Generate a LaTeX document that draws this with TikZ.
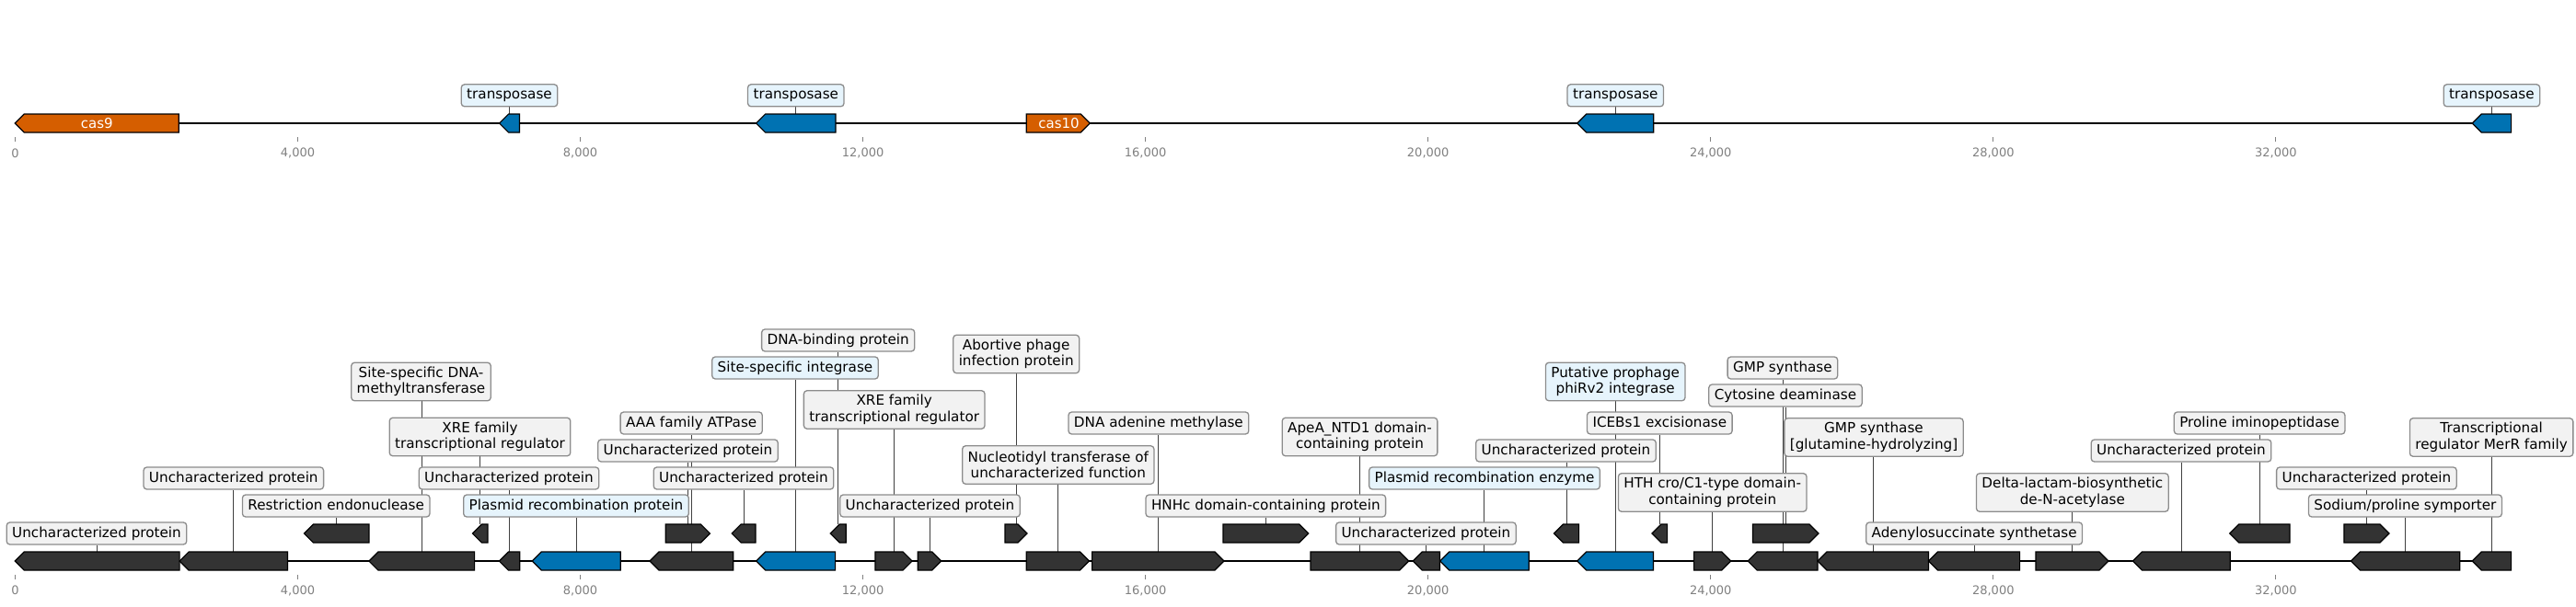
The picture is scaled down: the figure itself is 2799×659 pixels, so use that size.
\documentclass[tikz,border=0pt]{standalone}
\usepackage{fontspec}
\setmainfont{DejaVu Sans}
\usetikzlibrary{backgrounds}
\definecolor{featgray}{HTML}{333333}
\definecolor{featblue}{HTML}{0072B2}
\definecolor{featorange}{HTML}{D55E00}
\definecolor{labgray}{HTML}{F2F2F2}
\definecolor{labblue}{HTML}{E6F4FC}
\definecolor{labedge}{HTML}{8C8C8C}
\definecolor{ticklab}{HTML}{808080}
\newcommand\gfeatL[5]{%
  \pgfmathsetmacro\gtip{min(10,#3-#2)}%
  \draw[feat,fill=#5] (#2,#4) -- ({#2+\gtip},#4-10) -- (#3,#4-10) -- (#3,#4+10) -- ({#2+\gtip},#4+10) -- cycle;%
  \coordinate (#1) at ({(#2+#3)/2},#4-10);%
}
\newcommand\gfeatR[5]{%
  \pgfmathsetmacro\gtip{min(10,#3-#2)}%
  \draw[feat,fill=#5] (#2,#4-10) -- ({#3-\gtip},#4-10) -- (#3,#4) -- ({#3-\gtip},#4+10) -- (#2,#4+10) -- cycle;%
  \coordinate (#1) at ({(#2+#3)/2},#4-10);%
}
\tikzset{
  feat/.style={draw=black, line width=1.2pt, line join=miter},
  lab/.style={draw=labedge, fill=labgray, line width=1.3pt, rounded corners=3.5pt,
    font=\fontsize{15.2}{17.5}\selectfont, inner xsep=6pt, inner ysep=4.5pt,
    text height=11.5pt, text depth=3.5pt},
  labtwo/.style={draw=labedge, fill=labgray, line width=1.3pt, rounded corners=3.5pt,
    font=\fontsize{15.2}{17.5}\selectfont, align=center, inner xsep=6pt, inner ysep=0pt,
    minimum height=41.5pt},
  bluelab/.style={fill=labblue},
  conn/.style={draw=black!75, line width=1pt},
  track/.style={line width=2.5pt, draw=black},
  tickm/.style={draw=ticklab, line width=1pt},
  ticklabel/.style={text=ticklab, font=\fontsize{13}{13}\selectfont, inner sep=0pt},
  castext/.style={text=white, font=\fontsize{15}{15}\selectfont, inner sep=0pt},
}
\begin{document}
\begin{tikzpicture}[x=1pt,y=-1pt]
\useasboundingbox (0,0) rectangle (2799,659);
% tracks
\coordinate (ta) at (16.5,134); \coordinate (tb) at (2728.6,134);
\coordinate (ba) at (16.5,610); \coordinate (bb) at (2728.6,610);
\draw[track] (ta) -- (tb);
\draw[track] (ba) -- (bb);
% ticks
\foreach \k/\lab in {0/0,1/4{,}000,2/8{,}000,3/12{,}000,4/16{,}000,5/20{,}000,6/24{,}000,7/28{,}000,8/32{,}000}{
  \draw[tickm] ({16.5+\k*307.04},149) -- ({16.5+\k*307.04},154);
  \node[ticklabel] (ttop\k) at ({16.5+\k*307.04},166.5) {\lab};
  \draw[tickm] ({16.5+\k*307.04},625) -- ({16.5+\k*307.04},630);
  \node[ticklabel] (tbot\k) at ({16.5+\k*307.04},642) {\lab};
}
% top features
\gfeatL{c9}{16.3}{194.3}{134}{featorange}
\gfeatL{t1}{542.6}{564.5}{134}{featblue}
\gfeatL{t2}{821.6}{908}{134}{featblue}
\gfeatR{c10}{1115.2}{1184.3}{134}{featorange}
\gfeatL{t3}{1713.8}{1796.8}{134}{featblue}
\gfeatL{t4}{2686.2}{2728.6}{134}{featblue}
\node[castext] (c9t) at (105.3,134) {cas9};
\node[castext] (c10t) at (1150.5,134) {cas10};
\node[lab,bluelab] (lt1) at (553.5,103.8) {transposase};
\node[lab,bluelab] (lt2) at (864.8,103.8) {transposase};
\node[lab,bluelab] (lt3) at (1755.3,103.8) {transposase};
\node[lab,bluelab] (lt4) at (2707.4,103.8) {transposase};
% bottom main features
\gfeatL{f1}{16.3}{195.1}{610}{featgray}
\gfeatL{f2}{195.1}{312.5}{610}{featgray}
\gfeatL{f3}{400.9}{515.6}{610}{featgray}
\gfeatL{f4}{542.4}{564.7}{610}{featgray}
\gfeatL{f5}{578.2}{674.2}{610}{featblue}
\gfeatL{f6}{706}{796.8}{610}{featgray}
\gfeatL{f7}{821.8}{907.6}{610}{featblue}
\gfeatR{f8}{950.9}{991.1}{610}{featgray}
\gfeatR{f9}{997.3}{1022.8}{610}{featgray}
\gfeatR{f10}{1115.2}{1183.5}{610}{featgray}
\gfeatR{f11}{1186.6}{1330}{610}{featgray}
\gfeatR{f12}{1424}{1530.8}{610}{featgray}
\gfeatL{f13}{1535.3}{1564.5}{610}{featgray}
\gfeatL{f14}{1564.7}{1661.2}{610}{featblue}
\gfeatL{f15}{1713.8}{1796.4}{610}{featblue}
\gfeatR{f16}{1840.6}{1880.8}{610}{featgray}
\gfeatL{f17}{1899.1}{1975}{610}{featgray}
\gfeatL{f18}{1975}{2095.5}{610}{featgray}
\gfeatL{f19}{2095.5}{2194.6}{610}{featgray}
\gfeatR{f20}{2212}{2291}{610}{featgray}
\gfeatL{f21}{2317.4}{2423.2}{610}{featgray}
\gfeatL{f22}{2554.5}{2672.8}{610}{featgray}
\gfeatL{f23}{2686.2}{2728.6}{610}{featgray}
% bottom upper-row features
\gfeatL{u1}{330.4}{400.9}{580}{featgray}
\gfeatL{u2}{513.4}{529.9}{580}{featgray}
\gfeatR{u3}{723.2}{771.4}{580}{featgray}
\gfeatL{u4}{795.1}{821}{580}{featgray}
\gfeatL{u5}{902.2}{919.2}{580}{featgray}
\gfeatR{u6}{1092}{1116}{580}{featgray}
\gfeatR{u7}{1329}{1421.7}{580}{featgray}
\gfeatL{u8}{1688.4}{1715.6}{580}{featgray}
\gfeatL{u9}{1795}{1811.6}{580}{featgray}
\gfeatR{u10}{1904.5}{1975.9}{580}{featgray}
\gfeatL{u11}{2422.8}{2488}{580}{featgray}
\gfeatR{u12}{2546.9}{2596}{580}{featgray}
% bottom labels
\node[lab] (lf1) at (105,580) {Uncharacterized protein};
\node[lab] (lf2) at (253.8,520) {Uncharacterized protein};
\node[labtwo] (lf3) at (457.5,415) {Site-specific DNA-\\methyltransferase};
\node[lab] (lf4) at (553,520) {Uncharacterized protein};
\node[lab,bluelab] (lf5) at (626,550) {Plasmid recombination protein};
\node[lab] (lf6) at (751.2,460) {AAA family ATPase};
\node[lab,bluelab] (lf7) at (864,400) {Site-specific integrase};
\node[labtwo] (lf8) at (971.7,445.5) {XRE family\\transcriptional regulator};
\node[lab] (lf9) at (1010.5,550) {Uncharacterized protein};
\node[labtwo] (lf10) at (1149.8,505.5) {Nucleotidyl transferase of\\uncharacterized function};
\node[lab] (lf11) at (1258.9,460) {DNA adenine methylase};
\node[labtwo] (lf12) at (1477.5,475) {ApeA\_NTD1 domain-\\containing protein};
\node[lab] (lf13) at (1549.4,580) {Uncharacterized protein};
\node[lab,bluelab] (lf14) at (1613,520) {Plasmid recombination enzyme};
\node[labtwo,bluelab] (lf15) at (1755.2,415) {Putative prophage\\phiRv2 integrase};
\node[labtwo] (lf16) at (1860.7,535.5) {HTH cro/C1-type domain-\\containing protein};
\node[lab] (lf17) at (1936.9,400) {GMP synthase};
\node[labtwo] (lf18) at (2036,475.5) {GMP synthase\\{[}glutamine-hydrolyzing]};
\node[lab] (lf19) at (2145.1,580) {Adenylosuccinate synthetase};
\node[labtwo] (lf20) at (2251.8,535.5) {Delta-lactam-biosynthetic\\de-N-acetylase};
\node[lab] (lf21) at (2370,490) {Uncharacterized protein};
\node[lab] (lf22) at (2613.4,550) {Sodium/proline symporter};
\node[labtwo] (lf23) at (2707.1,475.5) {Transcriptional\\regulator MerR family};
\node[lab] (lu1) at (365.2,550) {Restriction endonuclease};
\node[labtwo] (lu2) at (521.5,475) {XRE family\\transcriptional regulator};
\node[lab] (lu3) at (747.5,490) {Uncharacterized protein};
\node[lab] (lu4) at (808,520) {Uncharacterized protein};
\node[lab] (lu5) at (910.7,370) {DNA-binding protein};
\node[labtwo] (lu6) at (1104.2,385) {Abortive phage\\infection protein};
\node[lab] (lu7) at (1375.3,550) {HNHc domain-containing protein};
\node[lab] (lu8) at (1701.5,490) {Uncharacterized protein};
\node[lab] (lu9) at (1803.3,460) {ICEBs1 excisionase};
\node[lab] (lu10) at (1940,430) {Cytosine deaminase};
\node[lab] (lu11) at (2455.1,460) {Proline iminopeptidase};
\node[lab] (lu12) at (2571.4,520) {Uncharacterized protein};
% connectors
\begin{scope}[on background layer]
\foreach \n in {t1,t2,t3,t4}{\draw[conn] (\n) -- (\n |- l\n.south);}
\foreach \n in {f1,f2,f3,f4,f5,f6,f7,f8,f9,f10,f11,f12,f13,f14,f15,f16,f17,f18,f19,f20,f21,f22,f23,u1,u2,u3,u4,u5,u6,u7,u8,u9,u10,u11,u12}{\draw[conn] (\n) -- (\n |- l\n.south);}
\end{scope}
\end{tikzpicture}
\end{document}
